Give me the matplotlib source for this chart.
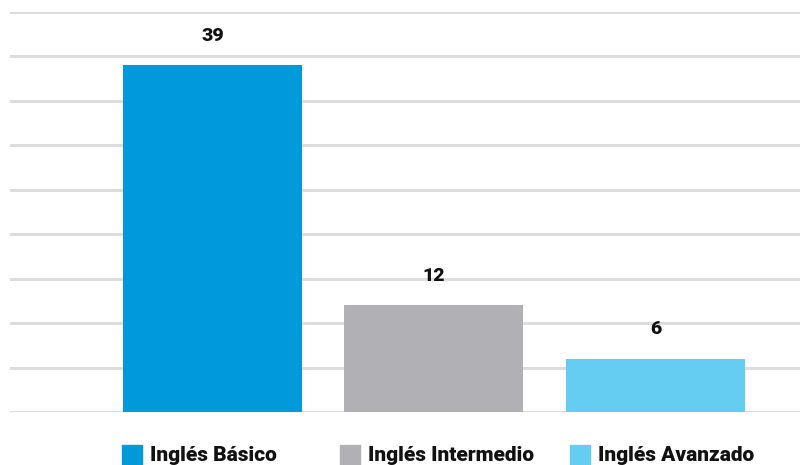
import matplotlib.pyplot as plt
from matplotlib.patches import Rectangle

categories = ["Inglés Básico", "Inglés Intermedio", "Inglés Avanzado"]
values = [39, 12, 6]
colors = ["#0099da", "#b1b1b5", "#66cdf2"]

plt.rcParams['font.family'] = ['Roboto', 'DejaVu Sans']

W, H = 800, 465
fig = plt.figure(figsize=(W / 100, H / 100), dpi=100)
ax = fig.add_axes([10 / W, (H - 412) / H, 790 / W, 400 / H])

x = list(range(len(categories)))
ax.bar(x, values, width=0.808, color=colors, zorder=3)
for xi, v in zip(x, values):
    ax.text(xi, v + 3.3, str(v), ha='center', va='center', fontsize=14,
            fontweight='heavy', color='#111111')

ax.set_ylim(0, 45)
ax.set_xlim(-0.914, 2.653)
ax.set_yticks(range(0, 46, 5))
ax.yaxis.grid(True, color='#dddddd', linewidth=2.2, zorder=0)
ax.tick_params(left=False, bottom=False, labelleft=False, labelbottom=False)
for s in ax.spines.values():
    s.set_visible(False)

# legend
sq_x = [122, 340, 570]
for sx, c, lab in zip(sq_x, colors, categories):
    fig.patches.append(Rectangle((sx / W, 0), 20 / W, 20 / H, transform=fig.transFigure,
                                 color=c, figure=fig))
    fig.text((sx + 28) / W, (H - 455) / H, lab, ha='left', va='center',
             fontsize=15, fontweight='heavy', color='#111111')

fig.savefig("out.png", dpi=100, facecolor='white')
